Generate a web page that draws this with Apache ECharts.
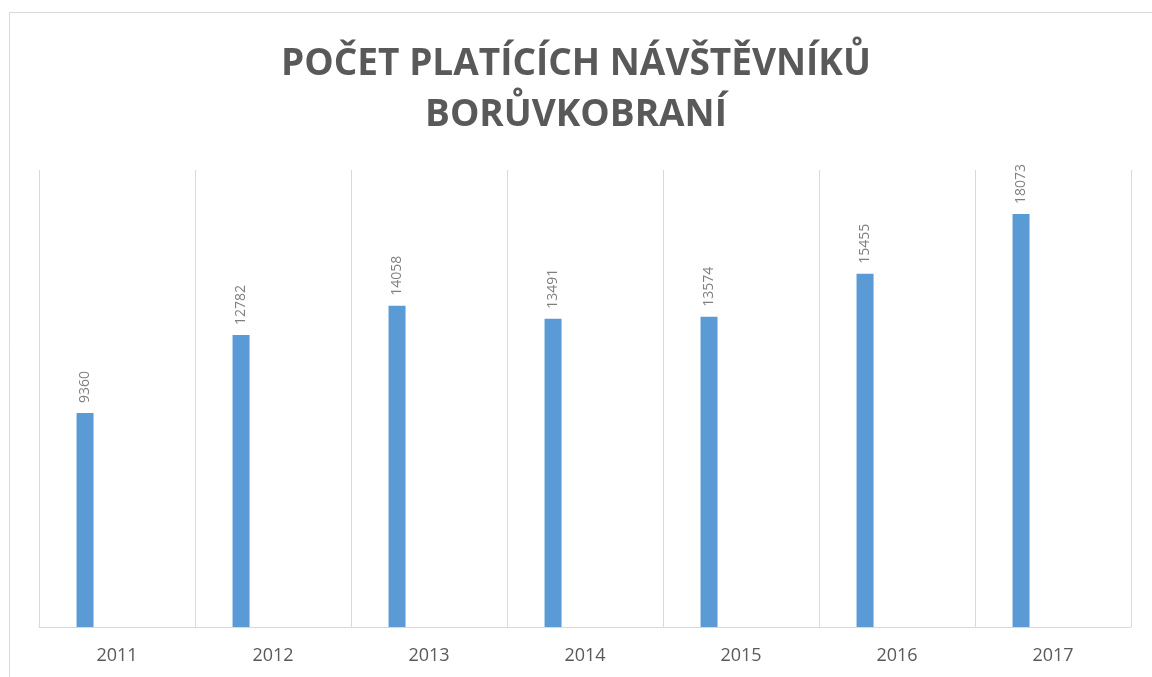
<!DOCTYPE html>
<html>
<head>
<meta charset="utf-8">
<script src="https://cdn.jsdelivr.net/npm/echarts@6/dist/echarts.min.js"></script>
<style>
  html, body { margin: 0; padding: 0; background: #fff; }
  #chart { width: 1152px; height: 677px; }
</style>
</head>
<body>
<div id="chart"></div>
<script>
// chart data
const years = ['2011', '2012', '2013', '2014', '2015', '2016', '2017']
const visitors = [9360, 12782, 14058, 13491, 13574, 15455, 18073]
const titleLines = ['POČET PLATÍCÍCH NÁVŠTĚVNÍKŮ', 'BORŮVKOBRANÍ']

const chart = echarts.init(document.getElementById('chart'))

chart.setOption({
  animation: false,
  title: {
    text: titleLines.join('\n'),
    left: 'center',
    top: 34,
    textStyle: {
      fontFamily: 'Open Sans',
      fontWeight: 'bold',
      fontSize: 37,
      lineHeight: 51,
      color: '#595959'
    }
  },
  graphic: [{
    type: 'rect',
    shape: { x: 9.5, y: 12.5, width: 1160, height: 700 },
    style: { fill: 'none', stroke: '#d9d9d9', lineWidth: 1 },
    silent: true
  }],
  grid: {
    left: 39,
    right: 21,
    top: 170,
    bottom: 50
  },
  xAxis: {
    type: 'category',
    data: years,
    axisLine: { lineStyle: { color: '#d9d9d9', width: 1 } },
    axisTick: { show: false },
    splitLine: { show: true, lineStyle: { color: '#d9d9d9', width: 1 } },
    axisLabel: {
      margin: 20,
      fontFamily: 'Open Sans',
      fontSize: 18,
      color: '#595959'
    }
  },
  yAxis: {
    type: 'value',
    min: 0,
    max: 20000,
    show: false,
    splitLine: { show: false }
  },
  series: [{
    name: 'Počet platících návštěvníků',
    type: 'bar',
    data: visitors,
    barWidth: 17,
    barGap: '276%',
    itemStyle: { color: '#5b9bd5' },
    label: {
      show: true,
      position: 'top',
      rotate: 90,
      align: 'left',
      verticalAlign: 'middle',
      distance: 10,
      fontFamily: 'Open Sans',
      fontSize: 14,
      color: '#7f7f7f'
    }
  }, {
    name: 'empty',
    type: 'bar',
    data: years.map(() => null),
    barWidth: 17
  }]
})
</script>
</body>
</html>
